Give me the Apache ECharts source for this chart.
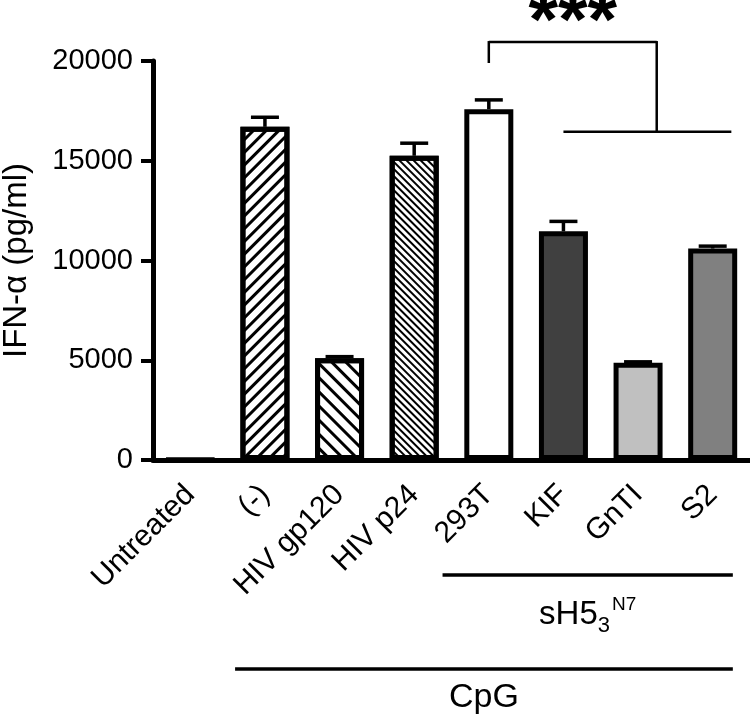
<!DOCTYPE html>
<html>
<head>
<meta charset="utf-8">
<script src="https://cdn.jsdelivr.net/npm/echarts@6/dist/echarts.min.js"></script>
<style>
  html, body { margin: 0; padding: 0; background: #fff; }
  #chart { width: 750px; height: 719px; }
</style>
</head>
<body>
<div id="chart"></div>
<script>
// ---- data ----
const categories = ['Untreated', '(-)', 'HIV gp120', 'HIV p24', '293T', 'KIF', 'GnTI', 'S2'];
const values = [20, 16700, 5100, 15250, 17580, 11460, 4870, 10600];
const errors = [0, 480, 80, 630, 470, 500, 50, 120];
const yTicks = [0, 5000, 10000, 15000, 20000];
const groupLabels = ['sH5', 'CpG'];

// ---- styles ----
const FONT = 'Liberation Sans';
const stripe = (gap, w, rot) => ({
  symbol: 'rect', symbolSize: 1, color: '#000',
  dashArrayX: [1, 0], dashArrayY: [w, gap], rotation: rot
});
const barStyles = [
  { color: '#fff' },
  { color: '#fff', decal: stripe(5.8, 2.8, -Math.PI / 4) },
  { color: '#fff', decal: stripe(6.2, 2.8, Math.PI / 4) },
  { color: '#fff', decal: stripe(2.6, 1.6, Math.PI / 4) },
  { color: '#fff' },
  { color: '#404040' },
  { color: '#c0c0c0' },
  { color: '#808080' }
];

const chart = echarts.init(document.getElementById('chart'), null, { renderer: 'canvas' });

const barData = values.map((v, i) => ({
  value: v,
  itemStyle: Object.assign({ borderColor: '#000', borderWidth: 5 }, barStyles[i])
}));
const errData = values.map((v, i) => [i, v, errors[i]]);

function renderErr(params, api) {
  const i = api.value(0), v = api.value(1), e = api.value(2);
  if (!e) return null;
  const p0 = api.coord([i, v]);
  const p1 = api.coord([i, v + e]);
  const hw = 14;
  const st = { stroke: '#000', lineWidth: 3.5 };
  return {
    type: 'group',
    children: [
      { type: 'line', shape: { x1: p0[0], y1: p0[1], x2: p1[0], y2: p1[1] }, style: st },
      { type: 'line', shape: { x1: p1[0] - hw, y1: p1[1], x2: p1[0] + hw, y2: p1[1] }, style: st }
    ]
  };
}

function renderAnno(params, api) {
  const band = api.size([1, 0])[0];
  const base = api.coord([0, 0])[1];
  const cx = (i) => api.coord([i, 0])[0];
  const cy = (v) => api.coord([0, v])[1];
  const thin = { stroke: '#000', lineWidth: 2.5 };
  const thick = { stroke: '#000', lineWidth: 3.5 };
  const topY = cy(20950);
  const leftX = cx(4);
  const rightX = cx(6) + band * 0.25;
  const dropY = cy(19900);
  const lowY = cy(16450);
  const lowL = cx(5);
  const lowR = cx(7) + band * 0.25;
  const sL = cx(4) - band * 0.62, sR = cx(7) + band * 0.27;
  const cL = cx(1) - band * 0.4, cR = sR;
  const sY = base + 115, cY = base + 209;
  const line = (x1, y1, x2, y2, st) => ({ type: 'line', shape: { x1, y1, x2, y2 }, style: st });
  return {
    type: 'group',
    children: [
      line(leftX, topY, rightX, topY, thin),
      line(leftX, topY - 1, leftX, dropY, thin),
      line(rightX, topY - 1, rightX, lowY, thin),
      line(lowL, lowY, lowR, lowY, thin),
      {
        type: 'text',
        style: {
          text: '***', x: (leftX + rightX) / 2, y: topY - 18,
          align: 'center', verticalAlign: 'middle',
          fontSize: 76, fontWeight: 'bold', fontFamily: FONT, fill: '#000'
        }
      },
      line(sL, sY, sR, sY, thick),
      line(cL, cY, cR, cY, thick),
      {
        type: 'text',
        style: {
          text: '{m|' + groupLabels[0] + '}{sub|3}{sup|N7}',
          x: (sL + sR) / 2, y: sY + 40, align: 'center', verticalAlign: 'middle',
          fontFamily: FONT, fill: '#000',
          rich: {
            m: { fontSize: 33, fontFamily: FONT, fill: '#000', verticalAlign: 'middle' },
            sub: { fontSize: 22, fontFamily: FONT, fill: '#000', padding: [22, 0, 0, 0] },
            sup: { fontSize: 19, fontFamily: FONT, fill: '#000', padding: [0, 0, 20, 2] }
          }
        }
      },
      {
        type: 'text',
        style: {
          text: groupLabels[1], x: (cL + cR) / 2, y: cY + 29,
          align: 'center', verticalAlign: 'middle',
          fontSize: 34, fontFamily: FONT, fill: '#000'
        }
      }
    ]
  };
}

const option = {
  animation: false,
  backgroundColor: '#fff',
  textStyle: { fontFamily: FONT, color: '#000' },
  grid: { left: 153, right: 0, top: 61, bottom: 259, containLabel: false, outerBoundsMode: 'none' },
  xAxis: {
    type: 'category',
    data: categories,
    axisLine: { lineStyle: { color: '#000', width: 5 } },
    axisTick: { alignWithLabel: true, length: 13, lineStyle: { color: '#000', width: 4 } },
    axisLabel: { rotate: 45, margin: 30, fontSize: 30, color: '#000', fontFamily: FONT, interval: 0 },
    splitLine: { show: false }
  },
  yAxis: {
    type: 'value',
    min: yTicks[0], max: yTicks[yTicks.length - 1], interval: yTicks[1] - yTicks[0],
    name: 'IFN-α (pg/ml)',
    nameLocation: 'middle', nameGap: 120,
    nameTextStyle: { fontSize: 33, color: '#000', fontFamily: FONT },
    axisLine: { show: true, lineStyle: { color: '#000', width: 5 } },
    axisTick: { show: true, length: 12, lineStyle: { color: '#000', width: 4 } },
    axisLabel: { margin: 20, fontSize: 29, color: '#000', fontFamily: FONT, formatter: (v) => String(v) },
    splitLine: { show: false }
  },
  series: [
    {
      type: 'bar', data: barData, barWidth: 49, z: 2
    },
    {
      type: 'custom', data: errData, renderItem: renderErr, z: 1,
      encode: { x: 0, y: 1 }, clip: false
    },
    {
      type: 'custom', data: [[0, 0]], renderItem: renderAnno, z: 3,
      encode: { x: 0, y: 1 }, clip: false, silent: true
    }
  ]
};
chart.setOption(option);
</script>
</body>
</html>
